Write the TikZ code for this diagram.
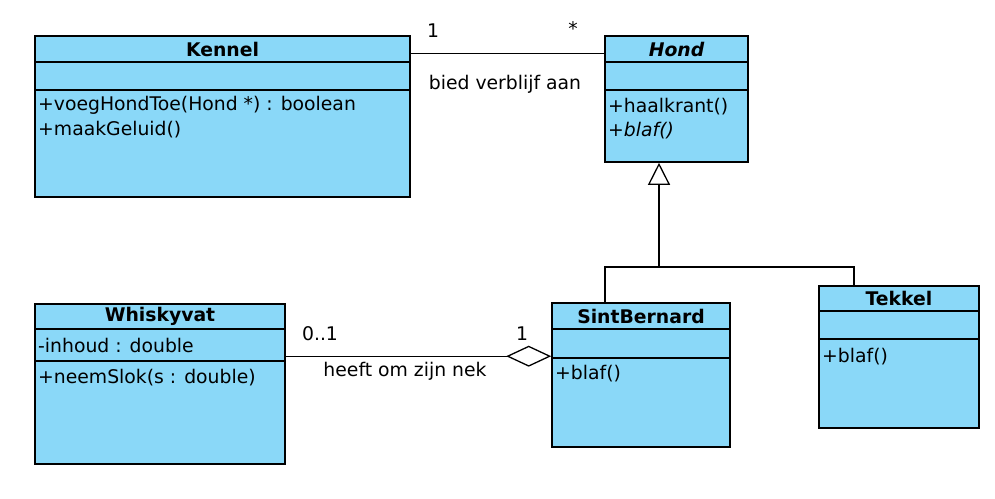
\documentclass[tikz,border=0pt]{standalone}
\usepackage{fontspec}
\setmainfont{DejaVu Sans}
\usetikzlibrary{arrows.meta}
\definecolor{klasblauw}{RGB}{138,216,248}

\begin{document}
\begin{tikzpicture}[x=1pt,y=-1pt]
    \tikzstyle{klasse}=[draw, line width=1.6pt, fill=klasblauw, inner sep=0pt]
    \tikzstyle{vak}=[line width=1.6pt]
    \tikzstyle{naam}=[inner sep=0pt, font=\fontsize{18.8}{22}\selectfont\bfseries]
    \tikzstyle{lid}=[anchor=west, inner sep=0pt, font=\fontsize{18.8}{22}\selectfont]
    \tikzstyle{lijn}=[line width=1.3pt]
    \tikzstyle{tekst}=[inner sep=0pt, font=\fontsize{18.8}{22}\selectfont]
    \useasboundingbox (0,0) rectangle (995,498);

    % Kennel
    \node[klasse, minimum width=375pt, minimum height=161pt] (kennel) at (222.5,116.5) {};
    \draw[vak] (kennel.west |- 0,62) -- (kennel.east |- 0,62);
    \draw[vak] (kennel.west |- 0,90) -- (kennel.east |- 0,90);
    \node[naam] (kennelnaam) at (222.5,49) {Kennel};
    \node[lid] (kennelm1) at (38,105.5) {+voegHondToe(Hond *) : boolean};
    \node[lid] (kennelm2) at (38,130) {+maakGeluid()};

    % Hond
    \node[klasse, minimum width=143pt, minimum height=126pt] (hond) at (676.5,99) {};
    \draw[vak] (hond.west |- 0,62) -- (hond.east |- 0,62);
    \draw[vak] (hond.west |- 0,90) -- (hond.east |- 0,90);
    \node[naam, font=\fontsize{18.8}{22}\selectfont\bfseries\itshape] (hondnaam) at (676.5,49) {Hond};
    \node[lid] (hondm1) at (608,107) {+haalkrant()};
    \node[lid, font=\fontsize{18.8}{22}\selectfont\itshape] (hondm2) at (608,131) {+blaf()};

    % Whiskyvat
    \node[klasse, minimum width=250pt, minimum height=160pt] (whiskyvat) at (160,384) {};
    \draw[vak] (whiskyvat.west |- 0,329) -- (whiskyvat.east |- 0,329);
    \draw[vak] (whiskyvat.west |- 0,361) -- (whiskyvat.east |- 0,361);
    \node[naam] (whiskyvatnaam) at (160,316.5) {Whiskyvat};
    \node[lid] (whiskyvata1) at (38,345) {-inhoud : double};
    \node[lid] (whiskyvatm1) at (38,378) {+neemSlok(s : double)};

    % SintBernard
    \node[klasse, minimum width=178pt, minimum height=144pt] (sintbernard) at (641,375) {};
    \draw[vak] (sintbernard.west |- 0,329) -- (sintbernard.east |- 0,329);
    \draw[vak] (sintbernard.west |- 0,358) -- (sintbernard.east |- 0,358);
    \node[naam] (sintbernardnaam) at (641,316) {SintBernard};
    \node[lid] (sintbernardm1) at (555,374) {+blaf()};

    % Tekkel
    \node[klasse, minimum width=160pt, minimum height=142pt] (tekkel) at (899,357) {};
    \draw[vak] (tekkel.west |- 0,311) -- (tekkel.east |- 0,311);
    \draw[vak] (tekkel.west |- 0,339) -- (tekkel.east |- 0,339);
    \node[naam] (tekkelnaam) at (899,298.5) {Tekkel};
    \node[lid] (tekkelm1) at (822,357) {+blaf()};

    % bied verblijf aan
    \draw[lijn] ([yshift=-18pt]kennel.north east) -- ([yshift=-18pt]hond.north west);
    \node[tekst] (een) at (433,31) {1};
    \node[tekst] (veel) at (573,29) {*};
    \node[tekst] (biedt) at (505,84) {bied verblijf aan};

    % overerving
    \coordinate (tak) at (659,267);
    \draw[lijn] ([xshift=-36pt]sintbernard.north) |- (tak) -| ([xshift=-45pt]tekkel.north);
    \draw[lijn, -{Triangle[open, length=22pt, width=22pt, line width=1.3pt]}] (tak) -- ([xshift=-17.5pt]hond.south);

    % heeft om zijn nek
    \draw[lijn, -{Diamond[open, length=45pt, width=21pt, line width=1.3pt]}] ([yshift=-53pt]whiskyvat.north east) -- ([yshift=-54pt]sintbernard.north west);
    \node[tekst] (nuleen) at (320,334) {0..1};
    \node[tekst] (eenb) at (522,334) {1};
    \node[tekst] (heeft) at (405,371) {heeft om zijn nek};
\end{tikzpicture}
\end{document}
